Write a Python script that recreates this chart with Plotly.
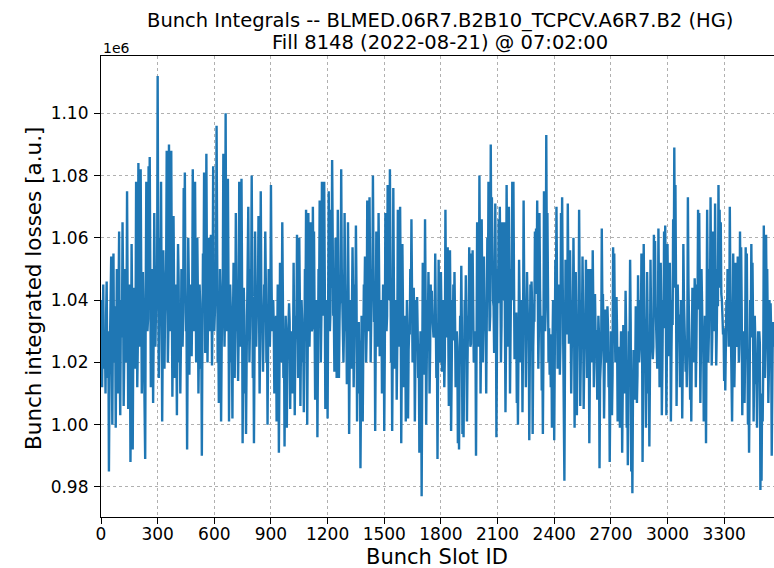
import plotly.graph_objects as go

# Bunch integrated losses (units of 1e6 a.u.)
# "peak_*" lists: readings at slots 0, 6, 12, ... (local extremes of the trace)
# "band_*" lists: readings at slots 3, 9, 15, ... (values inside the dense band)
slot_step = 6
peak_0000_0576 = [
    1.040, 1.012, 1.045, 1.020, 1.010, 1.046, 1.015, 0.985, 1.030, 1.054,
    1.000, 1.055, 1.022, 0.999, 1.050, 1.010, 1.062, 1.003, 1.040, 1.065,
    1.006, 1.050, 1.020, 1.075, 1.005, 1.045, 0.988, 1.058, 0.992, 1.040,
    1.018, 1.078, 1.012, 1.084, 1.025, 1.082, 1.010, 1.049, 1.020, 0.989,
    1.078, 1.030, 1.083, 1.086, 1.012, 1.050, 1.007, 1.068, 1.025, 1.045,
    1.112, 1.015, 1.060, 1.078, 1.001, 1.056, 1.018, 1.040, 1.088, 1.020,
    1.090, 1.030, 1.088, 1.009, 1.067, 1.015, 1.045, 1.003, 1.058, 1.020,
    1.010, 1.050, 1.025, 1.076, 1.081, 1.030, 0.992, 1.060, 1.016, 1.045,
    1.022, 1.082, 1.030, 1.078, 1.020, 1.060, 1.010, 1.045, 1.018, 0.990,
    1.055, 1.081, 1.023, 1.087, 1.020, 1.060, 1.030,
]
peak_0582_1176 = [
    1.061, 1.019, 1.083, 1.030, 1.045, 1.096, 1.020, 1.007, 1.050, 1.001,
    1.040, 1.087, 1.025, 1.100, 1.030, 1.079, 1.001, 1.045, 1.020, 1.002,
    1.052, 1.015, 1.068, 1.030, 1.014, 1.078, 1.025, 1.079, 0.994, 1.044,
    1.010, 0.997, 1.040, 1.070, 1.020, 1.050, 1.080, 1.015, 0.994, 1.062,
    1.025, 1.040, 1.067, 1.010, 1.075, 1.030, 1.017, 1.045, 1.062, 1.020,
    1.000, 1.050, 1.025, 1.077, 1.030, 1.040, 1.010, 1.035, 1.001, 1.045,
    0.991, 1.052, 1.020, 1.065, 1.015, 0.993, 1.035, 0.999, 1.025, 1.039,
    1.005, 1.030, 1.010, 1.052, 1.003, 1.035, 1.061, 1.015, 1.060, 1.006,
    1.040, 1.020, 1.004, 1.050, 1.069, 1.000, 1.068, 1.025, 1.065, 1.030,
    1.070, 1.062, 1.008, 1.040, 0.996, 1.050, 1.072, 1.020, 1.078, 1.035,
]
peak_1182_1782 = [
    1.078, 1.005, 1.040, 1.002, 1.075, 1.030, 1.069, 1.085, 1.035, 1.017,
    1.060, 1.015, 1.069, 1.015, 1.045, 1.082, 1.040, 1.020, 1.068, 1.030,
    1.013, 1.065, 0.997, 1.040, 1.018, 1.057, 1.012, 1.045, 1.064, 1.001,
    1.030, 1.010, 0.986, 1.035, 1.001, 1.045, 1.054, 1.020, 1.072, 1.030,
    1.073, 1.020, 1.050, 1.080, 1.033, 0.998, 1.062, 1.025, 1.068, 1.022,
    1.040, 1.010, 1.045, 0.998, 1.068, 1.030, 1.077, 1.040, 1.082, 1.020,
    0.998, 1.076, 1.018, 1.040, 1.008, 1.069, 1.025, 1.070, 0.994, 1.058,
    1.012, 1.035, 1.001, 1.040, 1.002, 1.030, 1.050, 1.066, 1.020, 1.044,
    1.001, 1.040, 1.041, 1.015, 0.991, 1.030, 0.977, 1.052, 1.016, 1.066,
    1.000, 1.040, 1.049, 1.010, 1.045, 1.043, 1.030, 1.029, 1.055, 1.015,
    0.989,
]
peak_1788_2388 = [
    1.053, 1.020, 1.049, 1.017, 1.040, 1.012, 1.069, 1.030, 1.057, 1.006,
    1.056, 0.998, 1.040, 1.045, 1.049, 1.012, 1.030, 0.994, 0.992, 1.035,
    1.051, 0.997, 0.996, 1.040, 1.048, 1.001, 1.035, 1.057, 1.025, 1.055,
    1.056, 1.020, 1.030, 0.990, 1.065, 1.025, 1.080, 1.010, 1.066, 1.020,
    1.054, 1.035, 1.010, 1.060, 1.078, 1.030, 1.090, 1.073, 1.040, 1.023,
    1.071, 0.996, 1.050, 1.066, 1.070, 1.020, 1.065, 1.040, 1.065, 1.004,
    1.077, 1.025, 1.070, 1.010, 1.050, 1.078, 1.078, 1.021, 1.035, 1.007,
    1.000, 1.053, 1.020, 1.040, 1.004, 1.072, 1.030, 1.012, 1.049, 1.030,
    0.995, 1.045, 1.046, 0.997, 1.035, 1.062, 1.063, 1.072, 1.018, 1.068,
    1.030, 1.011, 0.997, 1.075, 1.030, 1.093, 1.068, 1.020, 1.016, 1.012,
    0.999,
]
peak_2394_2982 = [
    1.040, 0.995, 1.053, 1.070, 1.018, 1.045, 1.016, 1.068, 1.073, 1.025,
    0.982, 1.053, 1.030, 1.071, 1.026, 1.056, 1.010, 1.040, 1.060, 0.999,
    1.049, 1.003, 1.035, 1.069, 1.006, 1.040, 1.054, 1.005, 1.035, 1.053,
    1.015, 1.050, 0.994, 1.050, 1.020, 1.056, 1.012, 1.042, 1.030, 1.008,
    1.035, 0.986, 1.020, 1.063, 1.042, 1.002, 1.037, 1.020, 1.038, 1.012,
    0.988, 1.030, 1.003, 1.057, 1.055, 1.020, 1.041, 1.001, 1.025, 0.999,
    1.030, 0.991, 1.032, 1.010, 1.043, 0.999, 0.987, 1.030, 1.053, 0.985,
    0.978, 1.024, 1.008, 1.038, 1.007, 1.048, 1.020, 1.040, 1.055, 0.988,
    1.058, 1.025, 0.999, 1.049, 1.010, 0.993, 1.053, 1.030, 1.021, 1.061,
    1.059, 1.030, 1.018, 1.063, 1.012, 1.052, 1.003, 1.040, 1.062,
]
peak_2988_3558 = [
    1.064, 1.003, 1.058, 1.022, 1.052, 1.001, 1.040, 1.066, 1.089, 1.077,
    1.006, 1.045, 1.035, 1.012, 1.040, 1.002, 1.058, 1.030, 1.017, 1.012,
    1.073, 1.030, 1.008, 1.001, 1.044, 1.020, 1.047, 1.012, 1.045, 1.069,
    1.068, 1.007, 1.050, 1.025, 1.001, 1.035, 0.994, 1.069, 1.020, 1.050,
    1.073, 1.019, 1.062, 1.030, 1.071, 1.019, 1.050, 1.077, 1.069, 1.065,
    1.040, 1.029, 1.014, 1.011, 1.040, 1.050, 1.025, 1.070, 1.030, 1.001,
    1.055, 1.012, 1.052, 1.025, 1.054, 1.020, 1.062, 1.057, 1.003, 1.030,
    1.007, 1.057, 1.055, 1.000, 0.991, 1.040, 1.058, 1.052, 1.001, 1.035,
    1.013, 0.999, 1.030, 1.030, 0.979, 0.982, 1.001, 1.064, 1.015, 1.061,
    1.050, 1.007, 1.040, 1.039, 0.990, 1.033,
]

band_0003_0579 = [
    1.025, 1.032, 1.018, 1.028, 1.035, 1.022, 1.030, 1.015, 1.040, 1.027,
    1.033, 1.020, 1.038, 1.025, 1.030, 1.042, 1.018, 1.035, 1.028, 1.045,
    1.022, 1.036, 1.030, 1.041, 1.024, 1.033, 1.015, 1.038, 1.028, 1.044,
    1.032, 1.047, 1.026, 1.040, 1.035, 1.048, 1.030, 1.037, 1.025, 1.042,
    1.050, 1.034, 1.045, 1.038, 1.029, 1.043, 1.031, 1.048, 1.036, 1.041,
    1.052, 1.033, 1.046, 1.039, 1.027, 1.044, 1.035, 1.050, 1.042, 1.031,
    1.048, 1.038, 1.045, 1.030, 1.043, 1.036, 1.028, 1.040, 1.047, 1.033,
    1.025, 1.041, 1.036, 1.049, 1.044, 1.032, 1.027, 1.046, 1.035, 1.040,
    1.038, 1.050, 1.034, 1.045, 1.030, 1.042, 1.026, 1.039, 1.033, 1.028,
    1.044, 1.051, 1.037, 1.048, 1.035, 1.043, 1.040,
]
band_0585_1179 = [
    1.045, 1.038, 1.050, 1.036, 1.042, 1.055, 1.033, 1.028, 1.040, 1.025,
    1.047, 1.052, 1.036, 1.049, 1.041, 1.046, 1.030, 1.038, 1.027, 1.033,
    1.044, 1.031, 1.048, 1.037, 1.029, 1.045, 1.040, 1.046, 1.022, 1.035,
    1.028, 1.020, 1.037, 1.043, 1.032, 1.041, 1.048, 1.030, 1.024, 1.044,
    1.036, 1.039, 1.046, 1.028, 1.042, 1.035, 1.030, 1.040, 1.045, 1.033,
    1.026, 1.038, 1.034, 1.047, 1.036, 1.031, 1.027, 1.035, 1.022, 1.030,
    1.018, 1.036, 1.029, 1.042, 1.030, 1.021, 1.027, 1.020, 1.031, 1.033,
    1.024, 1.029, 1.022, 1.037, 1.025, 1.030, 1.043, 1.028, 1.040, 1.026,
    1.034, 1.029, 1.023, 1.038, 1.045, 1.027, 1.046, 1.035, 1.042, 1.031,
    1.047, 1.040, 1.029, 1.036, 1.022, 1.039, 1.048, 1.034, 1.050, 1.041,
]
band_1185_1785 = [
    1.046, 1.030, 1.038, 1.027, 1.048, 1.036, 1.044, 1.052, 1.037, 1.031,
    1.043, 1.029, 1.047, 1.033, 1.039, 1.050, 1.041, 1.032, 1.045, 1.036,
    1.028, 1.042, 1.022, 1.035, 1.030, 1.040, 1.026, 1.037, 1.043, 1.024,
    1.033, 1.027, 1.018, 1.032, 1.025, 1.038, 1.041, 1.030, 1.046, 1.037,
    1.048, 1.034, 1.040, 1.051, 1.039, 1.027, 1.044, 1.036, 1.047, 1.033,
    1.038, 1.029, 1.040, 1.025, 1.046, 1.035, 1.049, 1.041, 1.052, 1.034,
    1.024, 1.045, 1.031, 1.037, 1.026, 1.043, 1.034, 1.044, 1.022, 1.038,
    1.027, 1.033, 1.020, 1.031, 1.024, 1.029, 1.036, 1.042, 1.028, 1.034,
    1.021, 1.032, 1.030, 1.026, 1.018, 1.027, 1.015, 1.035, 1.025, 1.040,
    1.020, 1.031, 1.036, 1.024, 1.033, 1.035, 1.028, 1.030, 1.038, 1.026,
    1.020,
]
band_1791_2391 = [
    1.032, 1.026, 1.035, 1.024, 1.030, 1.022, 1.041, 1.028, 1.036, 1.020,
    1.034, 1.016, 1.027, 1.031, 1.033, 1.022, 1.025, 1.014, 1.018, 1.027,
    1.032, 1.017, 1.019, 1.030, 1.033, 1.020, 1.028, 1.036, 1.026, 1.035,
    1.037, 1.028, 1.030, 1.022, 1.042, 1.033, 1.048, 1.027, 1.043, 1.031,
    1.038, 1.036, 1.029, 1.041, 1.047, 1.035, 1.052, 1.045, 1.038, 1.033,
    1.046, 1.026, 1.039, 1.044, 1.048, 1.032, 1.045, 1.040, 1.043, 1.028,
    1.049, 1.034, 1.046, 1.030, 1.040, 1.050, 1.047, 1.033, 1.036, 1.025,
    1.024, 1.038, 1.031, 1.035, 1.027, 1.045, 1.036, 1.029, 1.039, 1.034,
    1.022, 1.036, 1.038, 1.025, 1.033, 1.042, 1.044, 1.046, 1.031, 1.043,
    1.035, 1.028, 1.024, 1.045, 1.037, 1.052, 1.044, 1.031, 1.029, 1.027,
    1.025,
]
band_2397_2985 = [
    1.030, 1.022, 1.036, 1.044, 1.028, 1.034, 1.026, 1.043, 1.046, 1.031,
    1.020, 1.036, 1.029, 1.045, 1.032, 1.038, 1.024, 1.033, 1.040, 1.021,
    1.034, 1.023, 1.030, 1.042, 1.022, 1.031, 1.037, 1.020, 1.028, 1.036,
    1.024, 1.033, 1.018, 1.035, 1.026, 1.038, 1.021, 1.030, 1.027, 1.019,
    1.029, 1.014, 1.024, 1.039, 1.030, 1.017, 1.028, 1.022, 1.031, 1.019,
    1.012, 1.025, 1.016, 1.034, 1.033, 1.022, 1.029, 1.014, 1.023, 1.016,
    1.026, 1.012, 1.027, 1.018, 1.030, 1.015, 1.010, 1.024, 1.033, 1.011,
    1.008, 1.022, 1.017, 1.028, 1.016, 1.031, 1.024, 1.029, 1.036, 1.014,
    1.035, 1.026, 1.018, 1.032, 1.021, 1.016, 1.034, 1.027, 1.025, 1.040,
    1.038, 1.029, 1.024, 1.041, 1.022, 1.035, 1.019, 1.031, 1.040,
]
band_2991_3561 = [
    1.041, 1.026, 1.038, 1.030, 1.036, 1.023, 1.032, 1.044, 1.050, 1.046,
    1.027, 1.035, 1.032, 1.024, 1.033, 1.021, 1.040, 1.030, 1.025, 1.028,
    1.045, 1.031, 1.022, 1.026, 1.036, 1.029, 1.038, 1.025, 1.037, 1.044,
    1.043, 1.024, 1.039, 1.030, 1.020, 1.032, 1.017, 1.042, 1.029, 1.038,
    1.045, 1.028, 1.041, 1.032, 1.046, 1.030, 1.038, 1.049, 1.044, 1.042,
    1.035, 1.031, 1.025, 1.024, 1.033, 1.038, 1.030, 1.043, 1.031, 1.021,
    1.037, 1.024, 1.036, 1.028, 1.035, 1.026, 1.039, 1.037, 1.020, 1.029,
    1.022, 1.035, 1.034, 1.018, 1.014, 1.028, 1.036, 1.033, 1.017, 1.027,
    1.022, 1.014, 1.025, 1.026, 1.008, 1.010, 1.019, 1.038, 1.024, 1.036,
    1.031, 1.018, 1.030, 1.029, 1.012, 1.025,
]

peaks = (peak_0000_0576 + peak_0582_1176 + peak_1182_1782
         + peak_1788_2388 + peak_2394_2982 + peak_2988_3558)
band = (band_0003_0579 + band_0585_1179 + band_1185_1785
        + band_1791_2391 + band_2397_2985 + band_2991_3561)

slots, losses = [], []
for i, (p, b) in enumerate(zip(peaks, band)):
    slots += [i * slot_step, i * slot_step + slot_step // 2]
    losses += [p, b]

x_ticks = [0, 300, 600, 900, 1200, 1500, 1800, 2100, 2400, 2700, 3000, 3300]
y_ticks = [0.98, 1.00, 1.02, 1.04, 1.06, 1.08, 1.10]

title_line1 = "Bunch Integrals -- BLMED.06R7.B2B10_TCPCV.A6R7.B2 (HG)"
title_line2 = "Fill 8148 (2022-08-21) @ 07:02:00"

FONT = "DejaVu Sans"

fig = go.Figure()
fig.add_trace(go.Scatter(
    x=slots, y=losses, mode="lines",
    line=dict(color="#1f77b4", width=2.4),
    hoverinfo="skip", showlegend=False,
))

W, H = 774, 568
L, R, T, B = 101, 0, 56, 51
pw, ph = W - L - R, H - T - B


def px_x(px):
    return (px - L) / pw


def px_y(py):
    return (H - B - py) / ph


fig.update_layout(
    width=W, height=H,
    margin=dict(l=L, r=R, t=T, b=B, autoexpand=False),
    paper_bgcolor="white", plot_bgcolor="white",
    font=dict(family=FONT, color="black"),
    showlegend=False,
)
fig.update_xaxes(
    range=[0, 3564], tickvals=x_ticks, ticktext=[str(v) for v in x_ticks],
    ticks="outside", ticklen=6, tickwidth=1, tickcolor="black",
    tickfont=dict(size=17, family=FONT, color="black"),
    ticklabelstandoff=-5,
    showline=True, linecolor="black", linewidth=1.2, mirror=True,
    showgrid=True, gridcolor="#b0b0b0", gridwidth=0.8, griddash="dot",
    zeroline=False, automargin=False,
)
fig.update_yaxes(
    range=[0.97035, 1.1184], tickvals=y_ticks, tickformat=".2f",
    ticks="outside", ticklen=6, tickwidth=1, tickcolor="black",
    tickfont=dict(size=17, family=FONT, color="black"),
    ticklabelstandoff=2,
    showline=True, linecolor="black", linewidth=1.2, mirror=False,
    showgrid=True, gridcolor="#b0b0b0", gridwidth=0.8, griddash="dot",
    zeroline=False, automargin=False,
)

annotations = [
    dict(text=title_line1, x=px_x(440), y=px_y(20.5), font=dict(size=19.5)),
    dict(text=title_line2, x=px_x(440), y=px_y(42.5), font=dict(size=19.5)),
    dict(text="1e6", x=px_x(101), y=px_y(47.5), xanchor="left", font=dict(size=14)),
    dict(text="Bunch integrated losses [a.u.]", x=px_x(33), y=px_y(289),
         textangle=-90, font=dict(size=21.5)),
    dict(text="Bunch Slot ID", x=px_x(437), y=px_y(557), height=20,
         valign="middle", font=dict(size=21)),
]
for a in annotations:
    a.setdefault("xanchor", "center")
    a["yanchor"] = "middle"
    a["xref"] = "paper"
    a["yref"] = "paper"
    a["showarrow"] = False
    a["font"]["family"] = FONT
    a["font"]["color"] = "black"
fig.update_layout(annotations=annotations)

fig.write_html(
    "out.html",
    config={"displayModeBar": False},
    post_script="document.body.style.margin='0';document.body.style.overflow='hidden';",
)
